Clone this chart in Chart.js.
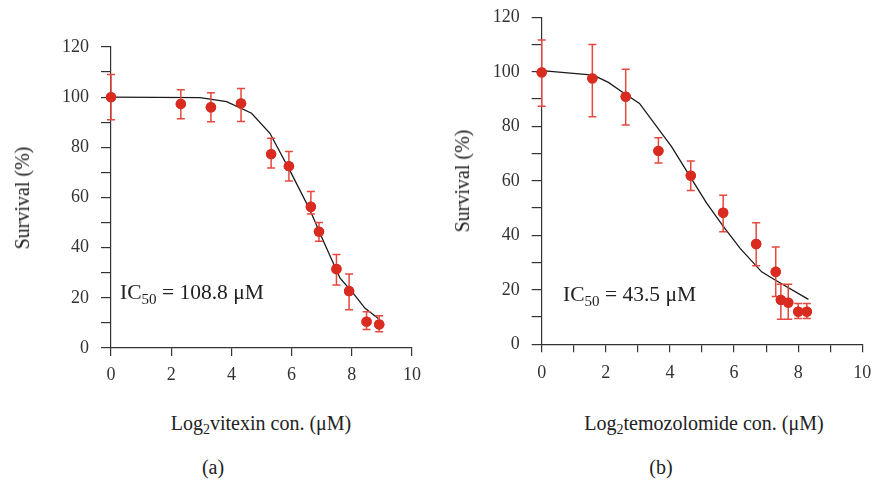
<!DOCTYPE html>
<html>
<head>
<meta charset="utf-8">
<script src="https://cdn.jsdelivr.net/npm/chart.js@4.4.1/dist/chart.umd.min.js"></script>
<style>
  html, body { margin: 0; padding: 0; background: #fff; }
  #wrap { position: relative; width: 878px; height: 483px; overflow: hidden; background: #fff; font-family: "Liberation Serif", "Times New Roman", serif; color: #222; }
  canvas { position: absolute; top: 0; }
  .t { position: absolute; white-space: nowrap; line-height: 1; color: #222; }
  .ytitle { transform: translate(-50%, -50%) rotate(-90deg); font-size: 20px; }
  .xtitle { transform: translate(-50%, -50%); font-size: 20px; }
  .pl { transform: translate(-50%, -50%); font-size: 20px; }
  .ic { transform: translate(0, -50%); font-size: 21.5px; }
  sub { font-size: 70%; vertical-align: -0.3em; line-height: 0; }
</style>
</head>
<body>
<div id="wrap">
  <canvas id="ca" width="440" height="400" style="left:0px;width:440px;height:400px"></canvas>
  <canvas id="cb" width="438" height="400" style="left:440px;width:438px;height:400px"></canvas>
  <div class="t ytitle" style="left:22px; top:198px;">Survival (%)</div>
  <div class="t ytitle" style="left:462px; top:181px;">Survival (%)</div>
  <div class="t xtitle" style="left:261px; top:423px;">Log<sub>2</sub>vitexin con. (μM)</div>
  <div class="t xtitle" style="left:704px; top:423px;">Log<sub>2</sub>temozolomide con. (μM)</div>
  <div class="t pl" style="left:213px; top:467px;">(a)</div>
  <div class="t pl" style="left:661px; top:467px;">(b)</div>
  <div class="t ic" style="left:120px; top:293px;">IC<sub>50</sub> = 108.8 μM</div>
  <div class="t ic" style="left:563px; top:295px;">IC<sub>50</sub> = 43.5 μM</div>
</div>
<script>
// ---- Panel (a): vitexin ----
const xA  = [0, 2.32, 3.32, 4.32, 5.32, 5.91, 6.64, 6.91, 7.49, 7.91, 8.49, 8.91];
const yA  = [100, 97.3, 96, 97.5, 77.3, 72.5, 56.3, 46.4, 31.5, 22.7, 10.5, 9.4];
const hiA = [109, 103, 101.8, 103.5, 83.6, 78.3, 62.4, 50, 37.3, 29.5, 14.5, 12.9];
const loA = [91, 91.4, 90.2, 90.3, 71.8, 66.6, 53.4, 42.6, 25.1, 15.2, 7.4, 6.5];
const fitAx = [0, 2.96, 3.84, 4.67, 5.28, 6.0, 6.61, 7.1, 7.61, 8.05, 8.44, 8.88];
const fitAy = [100, 99.8, 98.2, 93.6, 85.6, 69.4, 55, 41.5, 27.8, 21.8, 15.8, 11.8];

// ---- Panel (b): temozolomide ----
const xB  = [0, 1.58, 2.62, 3.64, 4.65, 5.66, 6.69, 7.3, 7.46, 7.69, 8.0, 8.27];
const yB  = [99.8, 97.6, 90.9, 71, 61.9, 48.3, 36.8, 26.6, 16.3, 15.3, 12, 12];
const hiB = [111.7, 110, 100.9, 75.8, 67.3, 54.7, 44.6, 35.7, 22, 22, 15, 15];
const loB = [87.4, 83.5, 80.5, 66.5, 56.4, 41.3, 28.8, 17.5, 9.2, 9.2, 9.5, 9.5];
const fitBx = [0, 1.61, 2.08, 2.5, 3.05, 4.05, 4.63, 5.15, 5.67, 6.19, 6.86, 7.28, 8.32];
const fitBy = [100.4, 98.8, 96.1, 92.7, 88.4, 72.5, 61.5, 51.7, 43.2, 35.2, 26.6, 23.6, 16.5];

// ---- Tick label values ----
const yMajor = [0, 20, 40, 60, 80, 100, 120];
const xMajor = [0, 2, 4, 6, 8, 10];

const POINT = '#d92b1f';
const ERR = '#e4483e';
const AXIS = '#333333';
const FONT = '"Liberation Serif", "Times New Roman", serif';

Chart.defaults.font.family = FONT;
Chart.defaults.font.size = 18;
Chart.defaults.color = '#333';

const errorBars = {
  id: 'errorBars',
  afterDatasetsDraw(chart, args, opts) {
    const ctx = chart.ctx;
    const xs = chart.scales.x, ys = chart.scales.y;
    ctx.save();
    ctx.strokeStyle = ERR;
    ctx.lineWidth = 1.5;
    opts.x.forEach((xv, i) => {
      const px = xs.getPixelForValue(xv);
      const pt = ys.getPixelForValue(opts.hi[i]);
      const pb = ys.getPixelForValue(opts.lo[i]);
      ctx.beginPath();
      ctx.moveTo(px, pt); ctx.lineTo(px, pb);
      ctx.moveTo(px - 4, pt); ctx.lineTo(px + 4, pt);
      ctx.moveTo(px - 4, pb); ctx.lineTo(px + 4, pb);
      ctx.stroke();
    });
    ctx.restore();
    const meta = chart.getDatasetMeta(1);
    meta.data.forEach(el => el.draw(ctx));
  }
};

function makeChart(id, xs, ys, hi, lo, fx, fy, pad, yWidth, xHeight, xStep, xPad) {
  const pts = xs.map((x, i) => ({ x: x, y: ys[i] }));
  const fit = fx.map((x, i) => ({ x: x, y: fy[i] }));
  return new Chart(document.getElementById(id), {
    type: 'scatter',
    data: {
      datasets: [
        { data: fit, showLine: true, borderColor: '#1a1a1a', borderWidth: 1.3, pointRadius: 0, tension: 0, clip: false, order: 2 },
        { data: pts, showLine: false, pointRadius: 5.2, pointBackgroundColor: POINT, pointBorderColor: POINT, pointBorderWidth: 0, clip: false, order: 1 }
      ]
    },
    options: {
      responsive: false,
      animation: false,
      events: [],
      layout: { padding: pad },
      plugins: {
        legend: { display: false },
        tooltip: { enabled: false },
        errorBars: { x: xs, hi: hi, lo: lo }
      },
      scales: {
        x: {
          type: 'linear', min: 0, max: 10,
          afterFit(s) { s.height = xHeight; s.paddingLeft = 0; s.paddingRight = 0; },
          afterBuildTicks(s) {
            const t = [];
            for (let v = 0; v <= 10 + 1e-9; v += xStep) t.push({ value: +v.toFixed(6) });
            s.ticks = t;
          },
          ticks: {
            font: { family: FONT, size: 18 }, color: '#333', padding: xPad, maxRotation: 0, autoSkip: false,
            callback: (v) => xMajor.includes(v) ? String(v) : ''
          },
          grid: { drawOnChartArea: false, drawTicks: true, tickLength: 8, color: AXIS, lineWidth: 1.2 },
          border: { display: true, color: AXIS, width: 1.2 }
        },
        y: {
          type: 'linear', min: 0, max: 120,
          afterFit(s) { s.width = yWidth; s.paddingTop = 0; s.paddingBottom = 0; },
          afterBuildTicks(s) {
            const t = [];
            for (let v = 0; v <= 120; v += 10) t.push({ value: v });
            s.ticks = t;
          },
          ticks: {
            font: { family: FONT, size: 18 }, color: '#333', padding: 12, autoSkip: false,
            callback: (v) => yMajor.includes(v) ? String(v) : ''
          },
          grid: { drawOnChartArea: false, drawTicks: true, tickLength: 10, color: AXIS, lineWidth: 1.2 },
          border: { display: true, color: AXIS, width: 1.2 }
        }
      }
    },
    plugins: [errorBars]
  });
}

function build() {
  makeChart('ca', xA, yA, hiA, loA, fitAx, fitAy, { left: 0, right: 28, top: 47, bottom: 0 }, 111, 52, 2, 8);
  makeChart('cb', xB, yB, hiB, loB, fitBx, fitBy, { left: 0, right: 15.7, top: 17.3, bottom: 0 }, 101.7, 55.7, 1, 10);
}
Promise.all([
  document.fonts.load('18px "Liberation Serif"'),
  document.fonts.load('20px "Liberation Serif"')
]).then(build, build);
</script>
</body>
</html>
